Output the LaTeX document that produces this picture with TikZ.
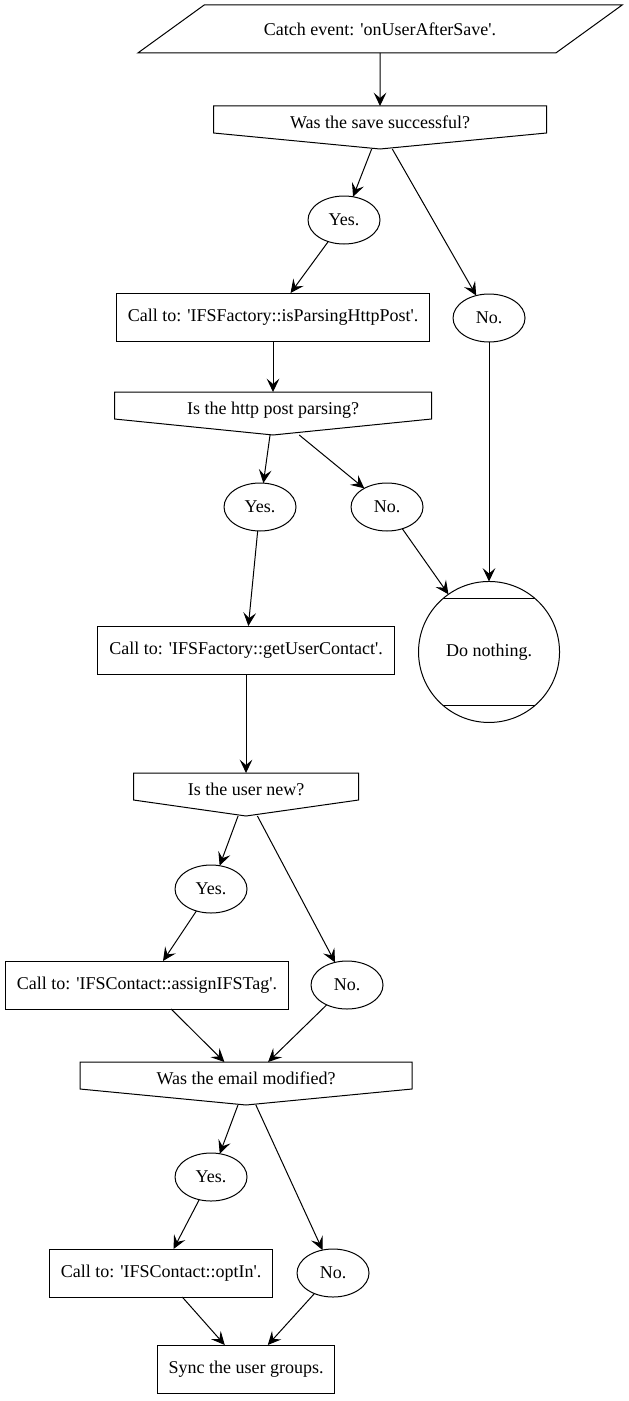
\documentclass[tikz,border=0pt]{standalone}
\usepackage{fontspec}
\setmainfont{Liberation Serif}
\usepackage{tikz}
\usetikzlibrary{positioning,arrows.meta,shapes.geometric}

\begin{document}
\begin{tikzpicture}[
  font=\fontsize{13.5}{16}\selectfont,
  event/.style={trapezium, draw, trapezium left angle=25.6, trapezium right angle=154.4,
                trapezium stretches=true, minimum width=364.5pt, minimum height=36pt,
                line width=0.75pt, outer sep=0pt},
  ask/.style={rectangle, outer sep=0pt, inner sep=0pt, minimum width=#1, minimum height=32.25pt,
              text height=10pt, text depth=8pt},
  ask/.default=249pt,
  answer/.style={ellipse, draw, line width=0.75pt, minimum width=54pt, minimum height=36pt,
                 inner sep=0pt, outer sep=0pt},
  call/.style={rectangle, draw, line width=0.75pt, minimum height=36pt, inner xsep=8.5pt,
               outer sep=0pt},
  halt/.style={circle, draw, line width=0.75pt, minimum size=105.75pt, inner sep=0pt,
               outer sep=0pt},
  ea/.style={-{Stealth[length=10pt, width=9.5pt, inset=4pt]}, line width=0.75pt},
]
\useasboundingbox (0,0) rectangle (471pt,-1050.75pt);

\node[event] (ev) at (285pt,-21.75pt) {Catch event: \textquotesingle onUserAfterSave\textquotesingle.};
\node[ask=249.75pt, below=39.75pt of ev] (q1) {Was the save successful?};
\node[answer, below=35.25pt of q1, xshift=-27pt] (y1) {Yes.};
\node[answer, below=108.75pt of q1, xshift=81.75pt] (n1) {No.};
\node[call, below=36.75pt of y1, xshift=-53.25pt] (c1) {Call to: \textquotesingle IFSFactory::isParsingHttpPost\textquotesingle.};

\node[ask=237.75pt, below=38.25pt of c1] (q2) {Is the http post parsing?};
\node[answer, below=36pt of q2, xshift=-9.75pt] (y2) {Yes.};
\node[answer, below=36pt of q2, xshift=85.5pt] (n2) {No.};
\node[call, below=71.25pt of y2, xshift=-10.5pt] (c2) {Call to: \textquotesingle IFSFactory::getUserContact\textquotesingle.};
\node[halt, below=179.6pt of n1] (dn) {Do nothing.};

\node[ask=168.75pt, below=74.25pt of c2] (q3) {Is the user new?};
\node[answer, below=36.75pt of q3, xshift=-26.25pt] (y3) {Yes.};
\node[answer, below=108.75pt of q3, xshift=75.75pt] (n3) {No.};
\node[call, below=36pt of y3, xshift=-48pt] (c3) {Call to: \textquotesingle IFSContact::assignIFSTag\textquotesingle.};

\node[ask=249pt, below=39.75pt of c3, xshift=74.25pt] (q4) {Was the email modified?};
\node[answer, below=36pt of q4, xshift=-26.25pt] (y4) {Yes.};
\node[answer, below=108pt of q4, xshift=65.25pt] (n4) {No.};
\node[call, below=36pt of y4, xshift=-37.5pt] (c4) {Call to: \textquotesingle IFSContact::optIn\textquotesingle.};
\node[call, below=36pt of c4, xshift=63.75pt] (sync) {Sync the user groups.};

% decision outlines (box with a pointed bottom)
\foreach \q in {q1,q2,q3,q4}
  \draw[line width=0.75pt] (\q.north west) -- (\q.north east) -- ([yshift=12pt]\q.south east)
    -- (\q.south) -- ([yshift=12pt]\q.south west) -- cycle;
\draw[line width=0.75pt] (dn.49) -- (dn.131) (dn.-49) -- (dn.-131);

\foreach \a/\b in {ev/q1, q1/y1, q1/n1, y1/c1, n1/dn, c1/q2, q2/y2, q2/n2, y2/c2, n2/dn,
                   c2/q3, q3/y3, q3/n3, y3/c3, c3/q4, n3/q4, q4/y4, q4/n4, y4/c4,
                   c4/sync, n4/sync}
  \draw[ea] (\a) -- (\b);

\end{tikzpicture}
\end{document}
